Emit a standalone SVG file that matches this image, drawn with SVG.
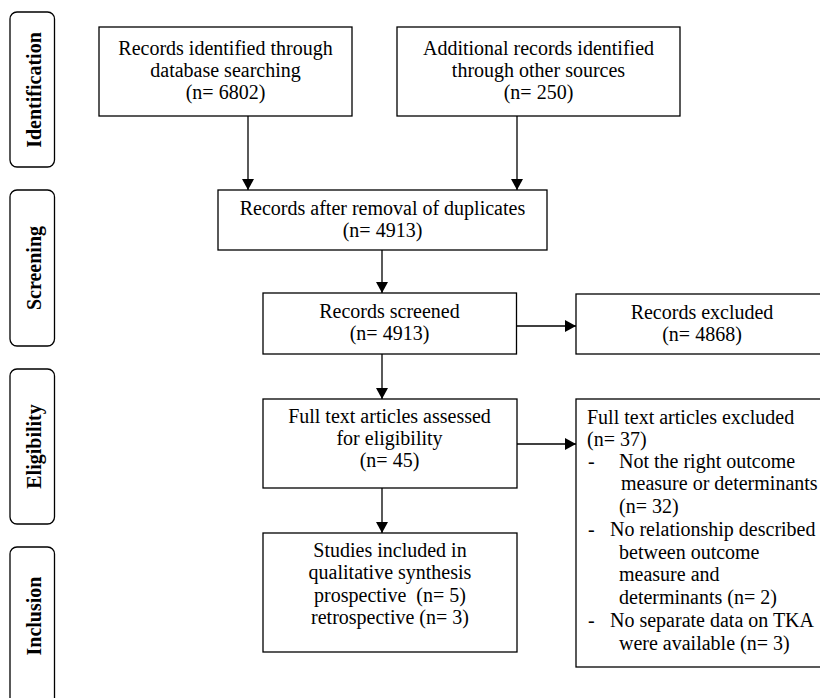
<svg xmlns="http://www.w3.org/2000/svg" width="820" height="698" viewBox="0 0 820 698">
<defs>
<marker id="ah" markerWidth="11" markerHeight="12" refX="11" refY="6" orient="auto" markerUnits="userSpaceOnUse">
<path d="M0,0 L11,6 L0,12 Z" fill="#000"/>
</marker>
<style>
.box{fill:#fff;stroke:#000;stroke-width:1.3}
.side{fill:#fff;stroke:#000;stroke-width:1.3}
.t{font-family:"Liberation Serif","Times New Roman",serif;font-size:20px;fill:#000}
.c{text-anchor:middle}
.lab{font-family:"Liberation Serif","Times New Roman",serif;font-size:20px;font-weight:bold;fill:#000;text-anchor:middle}
.con{stroke:#000;stroke-width:1.3;fill:none;marker-end:url(#ah)}
</style>
</defs>
<rect width="820" height="698" fill="#fff"/>

<g id="side-identification">
<rect class="side" x="10" y="12" width="44.5" height="155" rx="7"/>
<text class="lab" transform="translate(41,90) rotate(-90)">Identification</text>
</g>
<g id="side-screening">
<rect class="side" x="10" y="190" width="44.5" height="156" rx="7"/>
<text class="lab" transform="translate(41,268) rotate(-90)">Screening</text>
</g>
<g id="side-eligibility">
<rect class="side" x="10" y="369" width="44.5" height="155" rx="7"/>
<text class="lab" transform="translate(41,446.5) rotate(-90)">Eligibility</text>
</g>
<g id="side-inclusion">
<rect class="side" x="10" y="547" width="44.5" height="160" rx="7"/>
<text class="lab" transform="translate(41,616) rotate(-90)">Inclusion</text>
</g>

<g id="n-db">
<rect class="box" x="99" y="27" width="253" height="89"/>
<text class="t c" x="225.5" y="55">Records identified through</text>
<text class="t c" x="225.5" y="77">database searching</text>
<text class="t c" x="225.5" y="99">(n= 6802)</text>
</g>
<g id="n-other">
<rect class="box" x="397" y="27" width="283" height="89"/>
<text class="t c" x="538.5" y="55">Additional records identified</text>
<text class="t c" x="538.5" y="77">through other sources</text>
<text class="t c" x="538.5" y="99">(n= 250)</text>
</g>
<g id="n-dup">
<rect class="box" x="218" y="190" width="329" height="60"/>
<text class="t c" x="382.5" y="215">Records after removal of duplicates</text>
<text class="t c" x="382.5" y="237">(n= 4913)</text>
</g>
<g id="n-screened">
<rect class="box" x="263" y="293" width="253.5" height="61"/>
<text class="t c" x="389.5" y="318">Records screened</text>
<text class="t c" x="389.5" y="340">(n= 4913)</text>
</g>
<g id="n-excluded">
<rect class="box" x="576" y="294" width="260" height="60"/>
<text class="t c" x="702" y="319">Records excluded</text>
<text class="t c" x="702" y="341">(n= 4868)</text>
</g>
<g id="n-fulltext">
<rect class="box" x="263" y="399" width="254" height="89"/>
<text class="t c" x="389.5" y="423">Full text articles assessed</text>
<text class="t c" x="389.5" y="445">for eligibility</text>
<text class="t c" x="389.5" y="467">(n= 45)</text>
</g>
<g id="n-ftexcluded">
<rect class="box" x="576" y="399" width="260" height="268"/>
<text class="t" x="587" y="424">Full text articles excluded</text>
<text class="t" x="587" y="446">(n= 37)</text>
<text class="t" x="588" y="468">-</text>
<text class="t" x="619" y="468">Not the right outcome</text>
<text class="t" x="621" y="490">measure or determinants</text>
<text class="t" x="619" y="513">(n= 32)</text>
<text class="t" x="588" y="536">-</text>
<text class="t" x="610" y="536">No relationship described</text>
<text class="t" x="619" y="559">between outcome</text>
<text class="t" x="619" y="581">measure and</text>
<text class="t" x="619" y="604">determinants (n= 2)</text>
<text class="t" x="588" y="627">-</text>
<text class="t" x="610" y="627">No separate data on TKA</text>
<text class="t" x="619" y="650">were available (n= 3)</text>
</g>
<g id="n-included">
<rect class="box" x="263" y="533" width="254" height="119"/>
<text class="t c" x="390" y="557">Studies included in</text>
<text class="t c" x="390" y="579">qualitative synthesis</text>
<text class="t c" x="390" y="602" xml:space="preserve">prospective  (n= 5)</text>
<text class="t c" x="390" y="624">retrospective (n= 3)</text>
</g>

<g id="connectors">
<line class="con" x1="248" y1="116" x2="248" y2="190"/>
<line class="con" x1="517" y1="116" x2="517" y2="190"/>
<line class="con" x1="382" y1="250" x2="382" y2="293"/>
<line class="con" x1="516.5" y1="326" x2="576" y2="326"/>
<line class="con" x1="382" y1="354" x2="382" y2="399"/>
<line class="con" x1="517" y1="444" x2="576" y2="444"/>
<line class="con" x1="382" y1="488" x2="382" y2="533"/>
</g>
</svg>
